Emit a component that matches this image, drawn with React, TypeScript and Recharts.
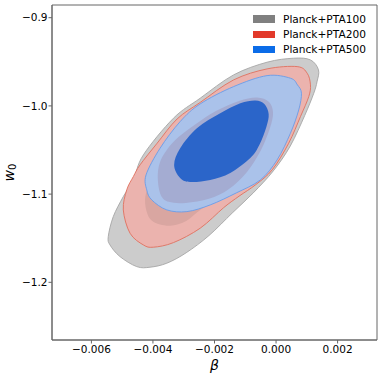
import { ComposedChart, Scatter, XAxis, YAxis, Legend, ReferenceArea } from 'recharts';

// legend
const seriesNames = ['Planck+PTA100', 'Planck+PTA200', 'Planck+PTA500'];
const seriesColors = ['#808080', '#e2392a', '#0b6ce8'];

const xTicks = [-0.006, -0.004, -0.002, 0, 0.002];
const yTicks = [-0.9, -1.0, -1.1, -1.2];
const xRange = [-0.00728, 0.00328];
const yRange = [-1.2654, -0.8856];

// contour outlines, [beta, w0]
const pta100Outer = [
  [-0.003334, -1.01395], [-0.002465, -0.99127], [-0.00138, -0.96485], [-0.000292, -0.95045],
  [0.000574, -0.94592], [0.001118, -0.94785], [0.001379, -0.95918], [0.00133, -0.97279],
  [0.001226, -0.9856], [0.00093, -1.0110], [0.00046, -1.0456], [-0.00009, -1.0737],
  [-0.00074, -1.0986], [-0.00142, -1.1213], [-0.00218, -1.1470], [-0.00292, -1.1665],
  [-0.003549, -1.17834], [-0.004093, -1.18288], [-0.004527, -1.1822], [-0.005071, -1.17086],
  [-0.005396, -1.1576], [-0.005452, -1.14819], [-0.005289, -1.12551], [-0.004963, -1.10283],
  [-0.004637, -1.0839], [-0.004312, -1.05556],
];

const pta100Inner = [
  [-0.004256, -1.10658], [-0.004201, -1.12018], [-0.004061, -1.12925], [-0.003768, -1.13435],
  [-0.003377, -1.13549], [-0.002921, -1.13039], [-0.002465, -1.11791], [-0.001976, -1.10658],
  [-0.001325, -1.0839], [-0.000673, -1.05556], [-0.00025, -1.02721], [-0.000185, -1.00454],
  [-0.000445, -0.9932], [-0.001162, -0.99887], [-0.002139, -1.01361], [-0.003116, -1.03855],
  [-0.003768, -1.06689], [-0.004159, -1.09297],
];

const pta200Outer = [
  [-0.00138, -0.97052], [-0.000292, -0.95805], [0.000685, -0.95544], [0.001011, -0.96293],
  [0.001118, -0.97619], [0.001063, -0.98946], [0.000793, -1.01213], [0.000411, -1.04229],
  [-0.00012, -1.0723], [-0.00066, -1.0893], [-0.00120, -1.1023], [-0.00170, -1.1153],
  [-0.002465, -1.13866], [-0.003334, -1.15499], [-0.003986, -1.1602], [-0.004312, -1.1576],
  [-0.004745, -1.14433], [-0.004963, -1.11791], [-0.004852, -1.09524], [-0.004637, -1.08016],
  [-0.004420, -1.06689], [-0.003865, -1.04235], [-0.003214, -1.01474], [-0.002465, -0.99603],
];

const pta200Inner = [
  [-0.003844, -1.0817], [-0.003779, -1.0646], [-0.003551, -1.0499], [-0.003160, -1.0351],
  [-0.002605, -1.0204], [-0.001954, -1.0057], [-0.001205, -0.9943], [-0.000619, -0.9904],
  [-0.000228, -0.9955], [-0.000098, -1.0079], [-0.000195, -1.0249], [-0.000488, -1.0499],
  [-0.000944, -1.0748], [-0.001530, -1.0941], [-0.002181, -1.1054], [-0.002930, -1.1100],
  [-0.003486, -1.1088], [-0.003746, -1.1009],
];

const pta500Outer = [
  [-0.003768, -1.04796], [-0.003116, -1.0178], [-0.002465, -0.99773], [-0.00138, -0.97812],
  [-0.000292, -0.96565], [0.000467, -0.96859], [0.000695, -0.97619], [0.000825, -0.9856],
  [0.000737, -1.00454], [0.000467, -1.03095], [0.000034, -1.06122], [-0.00051, -1.0839],
  [-0.001292, -1.09864], [-0.002139, -1.11224], [-0.002898, -1.11984], [-0.003549, -1.11791],
  [-0.004038, -1.10658], [-0.004201, -1.09524], [-0.004224, -1.07823],
];

const pta500Inner = [
  [-0.003312, -1.06689], [-0.003116, -1.04796], [-0.002572, -1.02528], [-0.001813, -1.00828],
  [-0.001162, -0.99694], [-0.000673, -0.99376], [-0.00038, -0.99773], [-0.00024, -1.00907],
  [-0.000315, -1.02381], [-0.000543, -1.04422], [-0.000836, -1.05896], [-0.001488, -1.07596],
  [-0.002139, -1.0839], [-0.002791, -1.08617], [-0.003116, -1.08163],
];

const toPoints = (a: number[][]) => a.map(([x, y]) => ({ x, y }));

// drawing order matters: later contours sit on top
const contours = [
  { key: 'pta100-95', data: pta100Outer, fill: '#cccccc', stroke: '#a6a6a6' },
  { key: 'pta200-95', data: pta200Outer, fill: '#ebb3ae', stroke: '#e0705f' },
  { key: 'pta100-68', data: pta100Inner, fill: '#d9a6a1', stroke: 'none' },
  { key: 'pta500-95', data: pta500Outer, fill: '#aac2ea', stroke: '#6a9ce8' },
  { key: 'pta200-68', data: pta200Inner, fill: '#a4acd2', stroke: 'none' },
  { key: 'pta500-68', data: pta500Inner, fill: '#2b65c9', stroke: 'none' },
];

const font = 'DejaVu Sans';

const fmtX = (v: number) => (v < 0 ? '\u2212' : '') + Math.abs(v).toFixed(3);
const fmtY = (v: number) => (v < 0 ? '\u2212' : '') + Math.abs(v).toFixed(1);

// smooth closed curve through the outline points (catmull-rom)
function closedPath(points: { x: number; y: number }[]) {
  const n = points.length;
  if (!n) return '';
  let d = `M${points[0].x},${points[0].y}`;
  for (let i = 0; i < n; i++) {
    const p0 = points[(i - 1 + n) % n];
    const p1 = points[i];
    const p2 = points[(i + 1) % n];
    const p3 = points[(i + 2) % n];
    const c1x = p1.x + (p2.x - p0.x) / 6;
    const c1y = p1.y + (p2.y - p0.y) / 6;
    const c2x = p2.x - (p3.x - p1.x) / 6;
    const c2y = p2.y - (p3.y - p1.y) / 6;
    d += ` C${c1x},${c1y} ${c2x},${c2y} ${p2.x},${p2.y}`;
  }
  return d + ' Z';
}

const contourLine = (fill: string, stroke: string) => (props: any) => (
  <path
    d={closedPath(props.points || [])}
    fill={fill}
    stroke={stroke}
    strokeWidth={stroke === 'none' ? 0 : 0.9}
  />
);

function LegendBox() {
  return (
    <div style={{ fontFamily: font, fontSize: 10.6, color: '#000' }}>
      {seriesNames.map((name, i) => (
        <div key={name} style={{ display: 'flex', alignItems: 'center', height: 15.2 }}>
          <span
            style={{
              display: 'inline-block',
              width: 22,
              height: 7.5,
              background: seriesColors[i],
              marginRight: 8.5,
            }}
          />
          <span>{name}</span>
        </div>
      ))}
    </div>
  );
}

const yLabel = (p: any) => {
  const vb = p.viewBox;
  const cy = vb.y + vb.height / 2;
  return (
    <text
      transform={`translate(14,${cy}) rotate(-90)`}
      textAnchor="middle"
      fontFamily={font}
      fontSize={14}
      fill="#000"
    >
      <tspan fontStyle="italic">w</tspan>
      <tspan fontSize={10} dy={2}>0</tspan>
    </text>
  );
};

const xLabel = (p: any) => {
  const vb = p.viewBox;
  return (
    <text
      x={vb.x + vb.width / 2}
      y={370}
      textAnchor="middle"
      fontFamily={font}
      fontStyle="italic"
      fontSize={14}
      fill="#000"
    >
      β
    </text>
  );
};

export default function App() {
  const tick = { fontSize: 10.5, fill: '#000', fontFamily: font };
  return (
    <div style={{ position: 'absolute', left: 0, top: 0, width: 382, height: 381, background: '#fff' }}>
      <ComposedChart width={382} height={381} margin={{ top: 5, right: 5, bottom: 0, left: 0 }}>
        <XAxis
          dataKey="x"
          type="number"
          domain={xRange}
          ticks={xTicks}
          allowDataOverflow
          tickFormatter={fmtX}
          tick={tick}
          tickSize={3.5}
          tickMargin={2}
          height={41}
          stroke="#666"
          label={{ content: xLabel }}
        />
        <YAxis
          dataKey="y"
          type="number"
          domain={yRange}
          ticks={yTicks}
          allowDataOverflow
          tickFormatter={fmtY}
          tick={tick}
          tickSize={3.5}
          tickMargin={1}
          width={52}
          stroke="#666"
          label={{ content: yLabel }}
        />
        {contours.map((c) => (
          <Scatter
            key={c.key}
            name={c.key}
            data={toPoints(c.data)}
            line={contourLine(c.fill, c.stroke)}
            lineType="joint"
            shape={() => <g />}
            isAnimationActive={false}
          />
        ))}
        <ReferenceArea
          x1={xRange[0]}
          x2={xRange[1]}
          y1={yRange[0]}
          y2={yRange[1]}
          fill="none"
          stroke="#666"
          strokeWidth={1}
          ifOverflow="visible"
        />
        <Legend
          layout="vertical"
          align="center"
          verticalAlign="middle"
          content={() => <LegendBox />}
          wrapperStyle={{ top: 11.5, left: 252.5, width: 128, height: 48 }}
        />
      </ComposedChart>
    </div>
  );
}
